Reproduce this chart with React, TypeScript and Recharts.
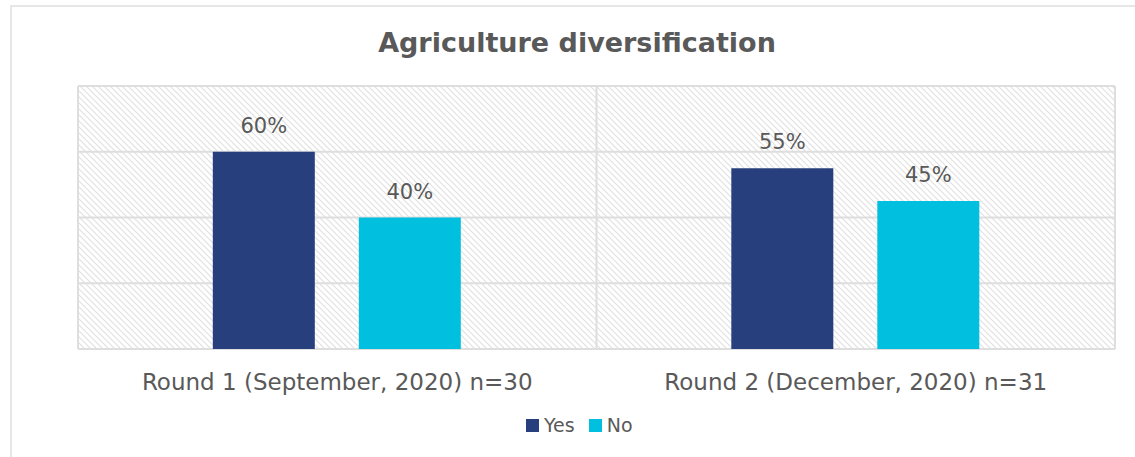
import React from "react";
import {
  BarChart,
  Bar,
  XAxis,
  YAxis,
  CartesianGrid,
  LabelList,
} from "recharts";

const rounds = [
  "Round 1 (September, 2020) n=30",
  "Round 2 (December, 2020) n=31",
];
const yesValues = [0.6, 0.55];
const noValues = [0.4, 0.45];
const yTicks = [0, 0.2, 0.4, 0.6, 0.8];
const legendItems = [
  { label: "Yes", color: "#283f7e" },
  { label: "No", color: "#00bfdf" },
];

const YES_COLOR = legendItems[0].color;
const NO_COLOR = legendItems[1].color;
const TEXT_COLOR = "#595959";
const FONT = "'DejaVu Sans', sans-serif";

const data = rounds.map((round, i) => ({
  round,
  yes: yesValues[i],
  no: noValues[i],
}));

const pct = (v: any) => `${Math.round(Number(v) * 100)}%`;

function ChartLegend() {
  return (
    <div
      style={{
        position: "absolute",
        left: 526,
        top: 414,
        display: "flex",
        alignItems: "center",
        fontFamily: FONT,
      }}
    >
      {legendItems.map((it) => (
        <div
          key={it.label}
          style={{ display: "flex", alignItems: "center", marginRight: 14 }}
        >
          <span
            style={{
              width: 13,
              height: 13,
              background: it.color,
              display: "inline-block",
              marginRight: 5,
            }}
          />
          <span style={{ fontSize: 19, color: TEXT_COLOR }}>{it.label}</span>
        </div>
      ))}
    </div>
  );
}

export default function App() {
  return (
    <div
      style={{
        position: "fixed",
        left: 0,
        top: 0,
        width: 1135,
        height: 457,
        background: "#fff",
        overflow: "hidden",
      }}
    >
      <div
        style={{
          position: "absolute",
          left: 10,
          top: 5,
          width: 1140,
          height: 470,
          border: "2px solid #e6e6e6",
          boxSizing: "border-box",
        }}
      />
      <div
        style={{
          position: "absolute",
          left: 377,
          top: 27,
          width: 400,
          textAlign: "center",
          fontFamily: FONT,
          fontWeight: "bold",
          fontSize: 27,
          color: TEXT_COLOR,
        }}
      >
        Agriculture diversification
      </div>
      <BarChart
        width={1135}
        height={457}
        data={data}
        margin={{ top: 86, right: 20, bottom: 68, left: 78 }}
        barCategoryGap="26%"
        barGap={44}
        style={{ position: "absolute", left: 0, top: 0 }}
      >
        <defs>
          <pattern
            id="hatch"
            patternUnits="userSpaceOnUse"
            width="6"
            height="6"
          >
            <path
              d="M0,0 L6,6 M-1,5 L1,7 M5,-1 L7,1"
              stroke="#e0e0e0"
              strokeWidth="1.1"
            />
          </pattern>
        </defs>
        <CartesianGrid
          fill="url(#hatch)"
          fillOpacity={1}
          stroke="#dedede"
          strokeWidth={2}
          verticalCoordinatesGenerator={({ offset }: any) => [
            offset.left,
            offset.left + offset.width / 2,
            offset.left + offset.width,
          ]}
        />
        <XAxis
          dataKey="round"
          axisLine={false}
          tickLine={false}
          tick={{ fill: TEXT_COLOR, fontSize: 23, fontFamily: FONT }}
          tickMargin={19}
          height={40}
        />
        <YAxis hide domain={[0, 0.8]} ticks={yTicks} />
        <Bar dataKey="yes" name="Yes" fill={YES_COLOR} isAnimationActive={false}>
          <LabelList
            dataKey="yes"
            position="top"
            offset={19}
            formatter={pct}
            style={{ fill: TEXT_COLOR, fontSize: 21, fontFamily: FONT }}
          />
        </Bar>
        <Bar dataKey="no" name="No" fill={NO_COLOR} isAnimationActive={false}>
          <LabelList
            dataKey="no"
            position="top"
            offset={19}
            formatter={pct}
            style={{ fill: TEXT_COLOR, fontSize: 21, fontFamily: FONT }}
          />
        </Bar>
      </BarChart>
      <ChartLegend />
    </div>
  );
}
